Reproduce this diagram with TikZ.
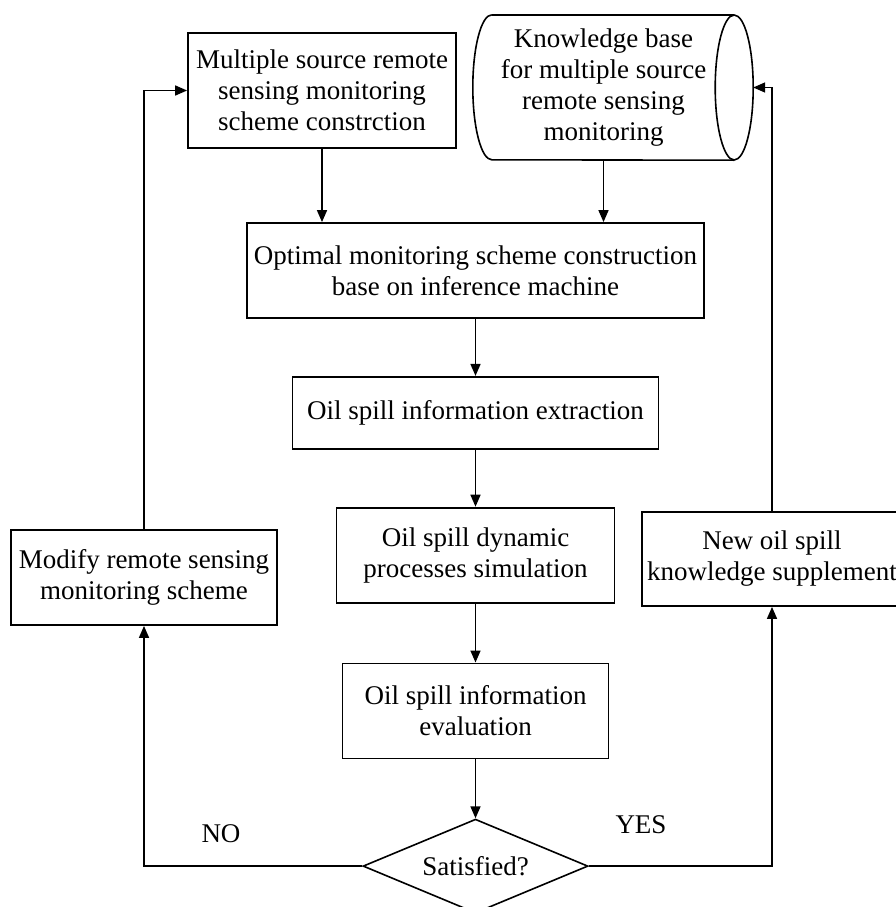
\documentclass[tikz,border=0pt]{standalone}
\usepackage{fontspec}
\setmainfont{Liberation Serif}
\usetikzlibrary{shapes.geometric, arrows.meta, positioning}
\tikzstyle{arrow} = [line width=1.6pt, -{Triangle[length=12pt,width=10pt]}]
\tikzstyle{line} = [line width=1.6pt]
\tikzstyle{process} = [rectangle, draw=black, line width=1.8pt, align=center, inner sep=0pt, fill=white]

\begin{document}
\begin{tikzpicture}[x=1pt, y=-1pt,
        every node/.style={
            font=\fontsize{27}{31}\selectfont
        },
        store/.style={
            line width=1.6pt
        },
        decision/.style={
            diamond, draw, line width=1.6pt, aspect=2.4, inner sep=0pt
        }
    ]
        \useasboundingbox (0,0) rectangle (896,907);

        % Top row: scheme and knowledge base
        \node[process, minimum width=268pt, minimum height=115pt] (scheme) at (322,90.5) {Multiple source remote\\sensing monitoring\\scheme constrction};
        \node[align=center, inner sep=0pt, minimum width=261pt, minimum height=145pt] (kbase) at (603.5,87.5) {Knowledge base\\for multiple source\\remote sensing\\monitoring};
        % cylinder outline round the knowledge base
        \draw[store] ([xshift=19pt]kbase.north west) arc[start angle=90, end angle=270, x radius=19pt, y radius=72.5pt] -- (kbase.south east);
        \draw[store] ([xshift=19pt]kbase.north west) -- (kbase.north east);
        \draw[store] (kbase.east) ellipse[x radius=19pt, y radius=72.5pt];

        % Inference machine
        \node[process, minimum width=457pt, minimum height=95pt] (optimal) at (475.5,270.5) {Optimal monitoring scheme construction\\base on inference machine};
        \draw[arrow] (scheme.south) -- (scheme.south |- optimal.north);
        \draw[arrow] (kbase.south) -- (kbase.south |- optimal.north);

        % Main chain
        \node[process, below=57pt of optimal, minimum width=366pt, minimum height=72pt] (extract) {Oil spill information extraction};
        \draw[arrow] (optimal.south) -- (extract.north);

        \node[process, below=57pt of extract, minimum width=278pt, minimum height=95pt] (dynamic) {Oil spill dynamic\\processes simulation};
        \draw[arrow] (extract.south) -- (dynamic.north);

        \node[process, below=59pt of dynamic, minimum width=266pt, minimum height=95pt] (evaluate) {Oil spill information\\evaluation};
        \draw[arrow] (dynamic.south) -- (evaluate.north);

        \node[decision, below=59pt of evaluate, minimum width=225pt, minimum height=94pt] (satisfied) {Satisfied?};
        \draw[arrow] (evaluate.south) -- (satisfied.north);

        % NO branch
        \node[process, minimum width=266pt, minimum height=95pt] (modify) at (144,577.5) {Modify remote sensing\\monitoring scheme};
        \draw[arrow] (satisfied.west) -| (modify.south);
        \draw[arrow] (modify.north) |- (scheme.west);
        \node (no) at (221,834) {NO};

        % YES branch
        \node[process, minimum width=260pt, minimum height=94pt] (newknow) at (772,559) {New oil spill\\knowledge supplement};
        \draw[arrow] (satisfied.east) -| (newknow.south);
        \draw[arrow] (newknow.north) |- ([xshift=19pt]kbase.east);
        \node (yes) at (641,825) {YES};
    \end{tikzpicture}
\end{document}
